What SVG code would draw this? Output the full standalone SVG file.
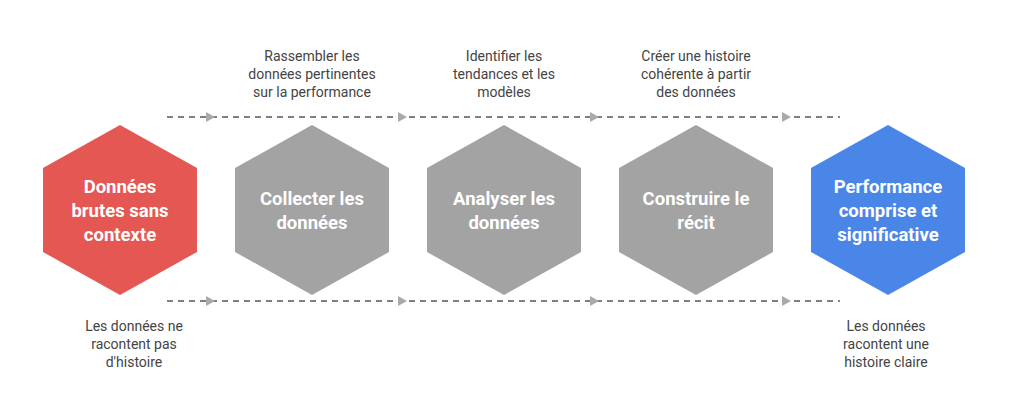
<svg xmlns="http://www.w3.org/2000/svg" width="1009" height="420" viewBox="0 0 1009 420">
<style>
.h{stroke:none}
.t{font-family:Roboto,"Liberation Sans",sans-serif;font-weight:bold;font-size:18.5px;fill:#fff;text-anchor:middle}
.l{font-family:Roboto,"Liberation Sans",sans-serif;font-size:14px;fill:#444;text-anchor:middle}
.d{stroke:#555;stroke-width:1.6;stroke-dasharray:6 5;fill:none}
</style>
<defs>
<polygon id="hex" points="0,-85 77,-42 77,42 0,85 -77,42 -77,-42"/>
<polygon id="ar" points="-4,-5 5,0 -4,5" fill="#aaa"/>
</defs>
<rect width="1009" height="420" fill="#fff"/>
<g id="connectors">
<path class="d" d="M167,117H840M167,301H840"/>
<use href="#ar" x="210" y="117"/><use href="#ar" x="402" y="117"/><use href="#ar" x="594" y="117"/><use href="#ar" x="786" y="117"/>
<use href="#ar" x="210" y="301"/><use href="#ar" x="402" y="301"/><use href="#ar" x="594" y="301"/><use href="#ar" x="786" y="301"/>
</g>
<g id="n1"><use href="#hex" x="120" y="210" fill="#e55753"/>
<text class="t" x="120" y="193">Données</text><text class="t" x="120" y="217">brutes sans</text><text class="t" x="120" y="241">contexte</text>
<text class="l" x="134" y="331">Les données ne</text><text class="l" x="134" y="349">racontent pas</text><text class="l" x="134" y="367">d'histoire</text></g>
<g id="n2"><use href="#hex" x="312" y="210" fill="#a3a3a3"/>
<text class="t" x="312" y="205">Collecter les</text><text class="t" x="312" y="229">données</text>
<text class="l" x="312" y="61">Rassembler les</text><text class="l" x="312" y="79">données pertinentes</text><text class="l" x="312" y="97">sur la performance</text></g>
<g id="n3"><use href="#hex" x="504" y="210" fill="#a3a3a3"/>
<text class="t" x="504" y="205">Analyser les</text><text class="t" x="504" y="229">données</text>
<text class="l" x="504" y="61">Identifier les</text><text class="l" x="504" y="79">tendances et les</text><text class="l" x="504" y="97">modèles</text></g>
<g id="n4"><use href="#hex" x="696" y="210" fill="#a3a3a3"/>
<text class="t" x="696" y="205">Construire le</text><text class="t" x="696" y="229">récit</text>
<text class="l" x="696" y="61">Créer une histoire</text><text class="l" x="696" y="79">cohérente à partir</text><text class="l" x="696" y="97">des données</text></g>
<g id="n5"><use href="#hex" x="888" y="210" fill="#4a86e8"/>
<text class="t" x="888" y="193">Performance</text><text class="t" x="888" y="217">comprise et</text><text class="t" x="888" y="241">significative</text>
<text class="l" x="886" y="331">Les données</text><text class="l" x="886" y="349">racontent une</text><text class="l" x="886" y="367">histoire claire</text></g>
</svg>
